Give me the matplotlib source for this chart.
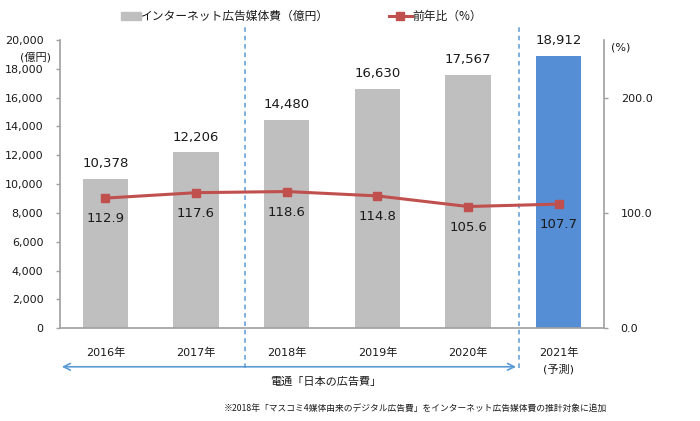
import numpy as np
import matplotlib
matplotlib.use('Agg')
import matplotlib.pyplot as plt

plt.rcParams['font.family'] = ['DejaVu Sans', 'Noto Sans CJK JP']
jp = ['Noto Sans CJK JP', 'DejaVu Sans']

# データ
years = ['2016年', '2017年', '2018年', '2019年', '2020年', '2021年']
spend = [10378, 12206, 14480, 16630, 17567, 18912]
yoy = [112.9, 117.6, 118.6, 114.8, 105.6, 107.7]
bar_colors = ['#BFBFBF'] * 5 + ['#558ED5']

gray_axis = '#A0A0A0'
red = '#C0504D'
blue_line = '#5B9BD5'

fig = plt.figure(figsize=(7, 4.21), dpi=100)
ax = fig.add_axes([0.0857, 0.2202, 0.7772, 0.6848])
ax2 = ax.twinx()

x = np.arange(len(years))
ax.bar(x, spend, width=0.5, color=bar_colors, zorder=2)
ax.set_xlim(-0.5, 5.5)
ax.set_ylim(0, 20000)
ax.set_yticks(np.arange(0, 20001, 2000))
ax.set_yticklabels([f'{v:,}' for v in range(0, 20001, 2000)])
ax.set_xticks(x)
ax.set_xticklabels(years)
ax.tick_params(axis='x', length=0, pad=14, labelsize=8, colors='#1a1a1a')
ax.tick_params(axis='y', length=3, width=1, color=gray_axis, pad=9, labelsize=8, labelcolor='#1a1a1a')

for s in ['top', 'right']:
    ax.spines[s].set_visible(False)
for s in ['left', 'bottom']:
    ax.spines[s].set_color(gray_axis)
    ax.spines[s].set_linewidth(1.2)

for xi, v in zip(x, spend):
    ax.annotate(f'{v:,}', (xi, v), xytext=(0, 11), textcoords='offset points',
                ha='center', va='center', fontsize=9.5, color='#1a1a1a')

# 前年比
ax2.plot(x, yoy, color=red, lw=2.2, marker='s', markersize=6, zorder=3)
ax2.set_ylim(0, 250)
ax2.set_yticks([0, 100, 200])
ax2.set_yticklabels(['0.0', '100.0', '200.0'])
ax2.tick_params(axis='y', length=3, width=1, color=gray_axis, pad=9, labelsize=8, labelcolor='#1a1a1a')
for s in ['top', 'left', 'bottom']:
    ax2.spines[s].set_visible(False)
ax2.spines['right'].set_color(gray_axis)
ax2.spines['right'].set_linewidth(1.2)

for xi, v in zip(x, yoy):
    ax2.annotate(f'{v:.1f}', (xi, v), xytext=(0, -15), textcoords='offset points',
                 ha='center', va='center', fontsize=9.5, color='#1a1a1a')

# 区切り線
for xv in [1.54, 4.56]:
    ax.axvline(xv, ymin=-0.138, ymax=1.055, color=blue_line, lw=1.1, ls=(0, (3, 2.5)),
               clip_on=False, zorder=1)

ax.annotate('', xy=(4.53, -0.1335), xytext=(-0.48, -0.1335),
            xycoords=('data', 'axes fraction'), textcoords=('data', 'axes fraction'),
            arrowprops=dict(arrowstyle='<->', color=blue_line, lw=1.2,
                            shrinkA=0, shrinkB=0, mutation_scale=12))
ax.text(2.43, -0.185, '電通「日本の広告費」', transform=ax.get_xaxis_transform(),
        ha='center', va='center', fontsize=8, color='#1a1a1a', family=jp)
ax.text(5, -0.1425, '(予測)', transform=ax.get_xaxis_transform(),
        ha='center', va='center', fontsize=8, color='#1a1a1a')

ax.text(-0.0735, 0.942, '(億円)', transform=ax.transAxes, ha='left', va='center',
        fontsize=8, color='#1a1a1a')
ax2.text(1.012, 0.975, '(%)', transform=ax2.transAxes, ha='left', va='center',
         fontsize=8, color='#1a1a1a')

# 凡例
fig.patches.append(plt.Rectangle((120.7 / 700, 1 - 19.5 / 421), 20 / 700, 7 / 421,
                                 transform=fig.transFigure, color='#BFBFBF'))
fig.text(141 / 700, 1 - 16 / 421, 'インターネット広告媒体費（億円）', ha='left', va='center',
         fontsize=8.5, color='#1a1a1a', family=jp)
fig.lines.append(plt.Line2D([389 / 700, 400.3 / 700, 411.5 / 700], [1 - 16 / 421] * 3,
                            transform=fig.transFigure, color=red, lw=2.2,
                            marker='s', markersize=6, markevery=[1]))
fig.text(412 / 700, 1 - 16 / 421, '前年比（%）', ha='left', va='center',
         fontsize=8.5, color='#1a1a1a', family=jp)

fig.text(224 / 700, 1 - 409 / 421,
         '※2018年「マスコミ4媒体由来のデジタル広告費」をインターネット広告媒体費の推計対象に追加',
         ha='left', va='center', fontsize=6.3, color='#1a1a1a', family=jp)

fig.savefig('out.png', dpi=100)
